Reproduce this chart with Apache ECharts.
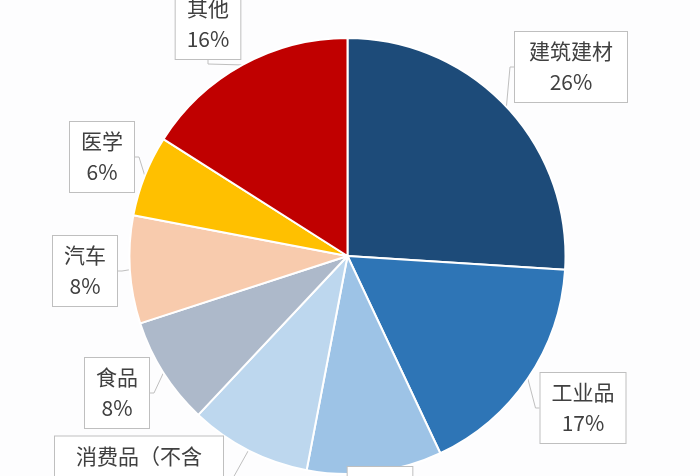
<!DOCTYPE html>
<html>
<head>
<meta charset="utf-8">
<script src="https://cdn.jsdelivr.net/npm/echarts@6/dist/echarts.min.js"></script>
<style>
html,body{margin:0;padding:0;background:#fdfdfe;}
#chart{width:700px;height:476px;}
</style>
</head>
<body>
<div id="chart"></div>
<script>
// ---- data ----
const categories = ['建筑建材', '工业品', '包装', '消费品（不含食品）', '食品', '汽车', '医学', '其他'];
const shares = [26, 17, 10, 9, 8, 8, 6, 16];

// ---- style ----
const colors = ['#1D4B79', '#2E75B6', '#9DC3E6', '#BDD7EE', '#ADB9CA', '#F8CBAD', '#FFC000', '#C00000'];
const labelCenters = [[571, 67], [583, 408], [380, 502], [139, 487], [117, 393], [85, 271], [102, 157], [208, 24]];

const chart = echarts.init(document.getElementById('chart'), null, {renderer: 'canvas'});
chart.setOption({
  backgroundColor: '#fdfdfe',
  animation: false,
  series: [{
    type: 'pie',
    center: [347.5, 256],
    radius: 218,
    startAngle: 90,
    clockwise: true,
    percentPrecision: 0,
    data: categories.map((c, i) => ({
      name: c,
      value: shares[i],
      itemStyle: {color: colors[i]},
      label: i === 3 ? {width: 140, overflow: 'break', padding: [4, 14]} : (c.length === 4 ? {padding: [4, 14]} : {})
    })),
    itemStyle: {borderColor: '#ffffff', borderWidth: 2},
    label: {
      show: true,
      position: 'outside',
      formatter: '{b}\n{d}%',
      fontFamily: '"Noto Sans CJK SC", "Noto Sans", sans-serif',
      fontSize: 21,
      lineHeight: 31,
      color: '#404040',
      align: 'center',
      backgroundColor: '#ffffff',
      borderColor: '#bfbfbf',
      borderWidth: 1,
      padding: [4, 11]
    },
    labelLine: {show: true, length: 6, length2: 4, lineStyle: {color: '#bfbfbf', width: 1}},
    labelLayout: function (params) {
      const p = labelCenters[params.dataIndex];
      return {x: p[0], y: p[1], align: 'center', verticalAlign: 'middle'};
    }
  }]
});
</script>
</body>
</html>
